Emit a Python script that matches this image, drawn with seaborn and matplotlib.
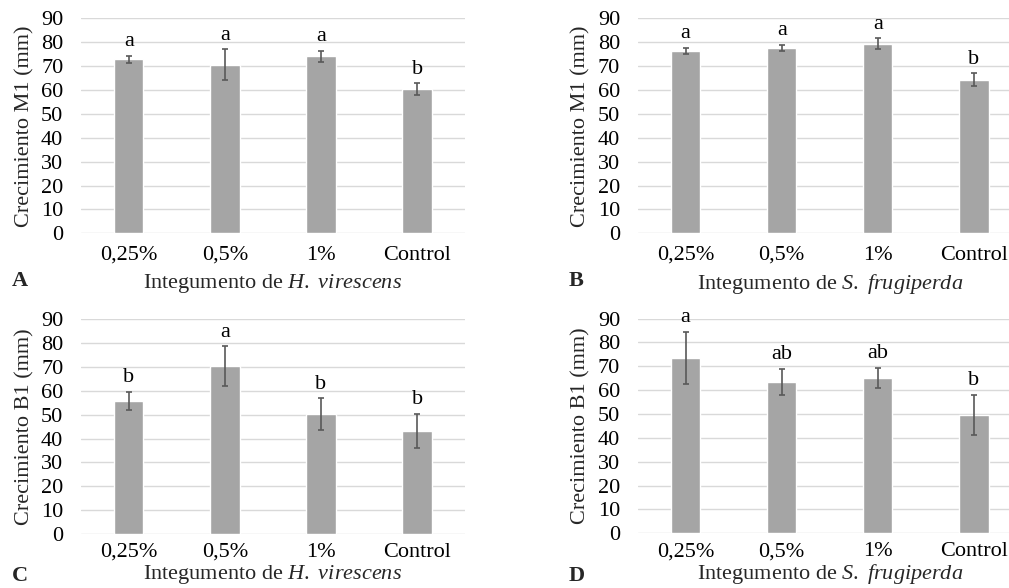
import matplotlib
matplotlib.use('Agg')
import matplotlib.pyplot as plt
import seaborn as sns
import pandas as pd

# ---- data ----
categories = ['0,25%', '0,5%', '1%', 'Control']

m1_hv = [72.8, 70.5, 74.2, 60.3]
m1_hv_err = [1.5, 6.5, 2.3, 2.5]
m1_hv_letters = ['a', 'a', 'a', 'b']

m1_sf = [76.3, 77.6, 79.4, 64.2]
m1_sf_err = [1.4, 1.4, 2.2, 2.7]
m1_sf_letters = ['a', 'a', 'a', 'b']

b1_hv = [55.8, 70.4, 50.3, 43.2]
b1_hv_err = [3.8, 8.3, 6.6, 7.2]
b1_hv_letters = ['b', 'a', 'b', 'b']

b1_sf = [73.5, 63.4, 65.1, 49.6]
b1_sf_err = [10.8, 5.6, 4.1, 8.3]
b1_sf_letters = ['a', 'ab', 'ab', 'b']

yticks = list(range(0, 91, 10))

sns.set_theme(style='white')
plt.rcParams['font.family'] = ['Liberation Serif', 'DejaVu Serif']
plt.rcParams['mathtext.fontset'] = 'custom'
plt.rcParams['mathtext.rm'] = 'Liberation Serif'
plt.rcParams['mathtext.it'] = 'Liberation Serif:italic'

BAR = '#a5a5a5'
ERR = '#595959'
GRID = '#d9d9d9'
FS = 16

fig = plt.figure(figsize=(10.09, 5.88), dpi=100)
fig.patch.set_facecolor('white')

W = 1009.0
H = 588.0

XL_HV = r'Integumento de $\mathit{H.}$ $\mathit{virescens}$'
XL_SF = r'Integumento de $\mathit{S.}$ $\mathit{frugiperda}$'


def panel(rect, vals, errs, letters, ylabel, xlabel, tag, tag_xy, xpad, xlpad):
    ax = fig.add_axes(rect)
    df = pd.DataFrame({'cat': categories, 'val': vals})
    sns.barplot(data=df, x='cat', y='val', color=BAR, width=0.305,
                saturation=1, errorbar=None, ax=ax, zorder=3)
    xs = [p.get_x() + p.get_width() / 2 for p in ax.patches]
    ax.errorbar(xs, vals, yerr=errs, fmt='none', ecolor=ERR,
                elinewidth=1.2, capsize=2.5, capthick=1.2, zorder=4)
    for x, v, e, l in zip(xs, vals, errs, letters):
        ax.annotate(l, (x, v + e), xytext=(0, 7), textcoords='offset points',
                    ha='center', va='baseline', fontsize=FS, color='black')
    ax.set_ylim(0, 90)
    ax.set_xlim(-0.5, 3.5)
    ax.set_yticks(yticks)
    ax.grid(axis='y', color=GRID, lw=1, zorder=0)
    ax.set_axisbelow(True)
    for s in ax.spines.values():
        s.set_visible(False)
    ax.tick_params(axis='both', length=0, labelsize=FS, colors='black')
    ax.tick_params(axis='y', pad=12.5)
    ax.tick_params(axis='x', pad=xpad)
    ax.set_ylabel(ylabel, fontsize=FS, labelpad=5)
    ax.set_xlabel(xlabel, fontsize=FS, labelpad=xlpad)
    fig.text(tag_xy[0] / W, 1 - tag_xy[1] / H, tag, fontsize=FS,
             fontweight='bold', ha='left', va='center')
    return ax


left_a = 80.7 / W
left_b = 637.5 / W
wid = 384.5 / W

panel([left_a, (H - 233.3) / H, wid, 215 / H], m1_hv, m1_hv_err, m1_hv_letters,
      'Crecimiento M1 (mm)', XL_HV, 'A', (12, 281), 9, 5)
panel([left_b, (H - 233.3) / H, wid, 215 / H], m1_sf, m1_sf_err, m1_sf_letters,
      'Crecimiento M1 (mm)', XL_SF, 'B', (569, 281), 9, 5)
panel([left_a, (H - 534) / H, wid, 214.7 / H], b1_hv, b1_hv_err, b1_hv_letters,
      'Crecimiento B1 (mm)', XL_HV, 'C', (12, 576), 6.5, 0.5)
panel([left_b, (H - 533.3) / H, wid, 214.7 / H], b1_sf, b1_sf_err, b1_sf_letters,
      'Crecimiento B1 (mm)', XL_SF, 'D', (569, 576), 6.5, 0.5)

fig.savefig('out.png', dpi=100, facecolor='white')
